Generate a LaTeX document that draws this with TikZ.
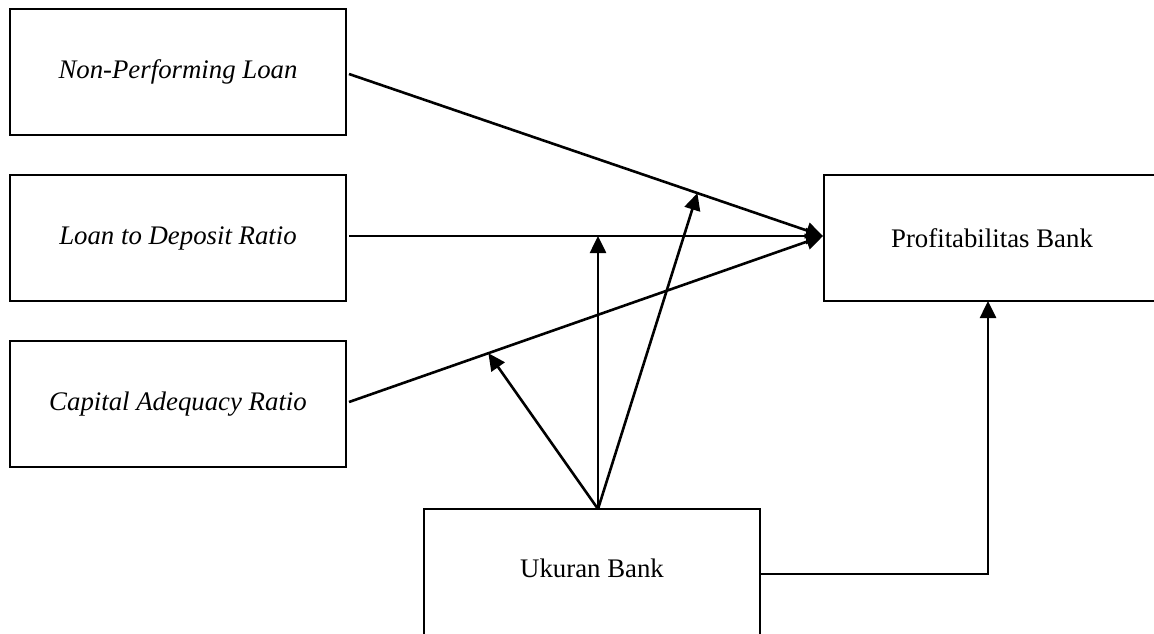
\documentclass[tikz,border=0pt]{standalone}
\usepackage{fontspec}
\setmainfont{Liberation Serif}
\usetikzlibrary{arrows.meta}
\begin{document}
\begin{tikzpicture}[x=1pt,y=-1pt,
  box/.style={draw,line width=2pt,minimum width=336pt,minimum height=126pt,inner sep=0pt,font=\fontsize{26.8}{30}\selectfont},
  arr/.style={line width=2.6pt,-{Triangle[length=17pt,width=16pt]}},
  lbl/.style={font=\fontsize{26.8}{30}\selectfont,inner sep=0pt}]
\useasboundingbox (0,0) rectangle (1154,633);
\clip (0,0) rectangle (1154,633);
\node[box] (npl) at (178,72) {\itshape Non-Performing Loan};
\node[box] (ldr) at (178,238) {\itshape Loan to Deposit Ratio};
\node[box] (car) at (178,404) {\itshape Capital Adequacy Ratio};
\node[box] (pb) at (992,238) {Profitabilitas Bank};
\node[box,minimum height=130pt] (uk) at (592,574) {};
\node[lbl] (ukt) at (592,568) {Ukuran Bank};
\coordinate (o) at (598,509);
\coordinate (pbin) at (823,236);
\coordinate (pbb) at (988,301);
\coordinate (s1) at ([xshift=2pt,yshift=-2pt]npl.east);
\coordinate (s2) at ([xshift=2pt,yshift=2pt]ldr.east);
\coordinate (s3) at ([xshift=2pt,yshift=2pt]car.east);
\draw[arr] (s1) -- (pbin);
\draw[arr] (s2) -- (pbin);
\draw[arr] (s3) -- (pbin);
\path (s1) -- (pbin) coordinate[pos=0.735] (m1);
\path (s3) -- (pbin) coordinate[pos=0.294] (m3);
\draw[arr] (o) -- (m1);
\draw[arr] (o) -- (o |- pbin);
\draw[arr] (o) -- (m3);
\draw[arr] (uk.east) -| (pbb);
\end{tikzpicture}
\end{document}
